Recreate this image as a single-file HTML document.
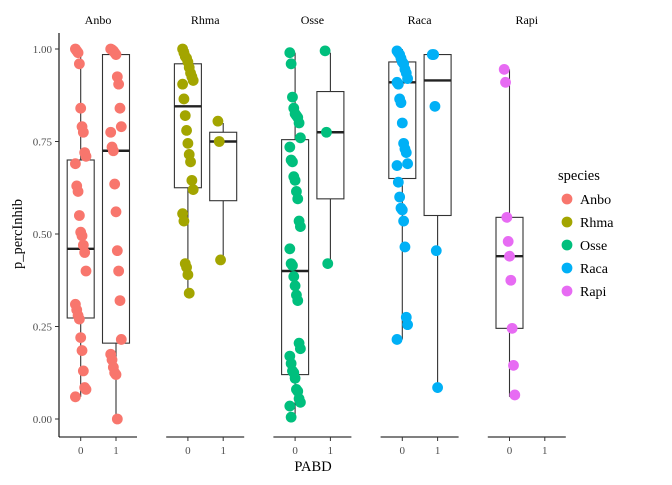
<!DOCTYPE html>
<html><head><meta charset="utf-8"><style>
body{margin:0;background:#fff}
svg text{font-family:"Liberation Serif",serif}
</style></head><body>
<svg id="c" width="672" height="480"></svg>
<script>
const species=["Anbo","Rhma","Osse","Raca","Rapi"];
const colors=["#F8766D","#A3A500","#00BF7D","#00B0F6","#E76BF3"];
const yTicks=[0,0.25,0.5,0.75,1];
const yTickLabels=["0.00","0.25","0.50","0.75","1.00"];
// boxes: [species index, PABD, whiskerLow, q1, median, q3, whiskerHigh]
const boxes=[
[0,0,0.06,0.273,0.46,0.70,1.0],[0,1,0,0.205,0.725,0.985,1.0],
[1,0,0.34,0.625,0.845,0.96,1.0],[1,1,0.43,0.59,0.75,0.775,0.80],
[2,0,0.005,0.12,0.40,0.755,0.99],[2,1,0.42,0.595,0.775,0.885,0.99],
[3,0,0.215,0.65,0.91,0.965,1.0],[3,1,0.085,0.55,0.915,0.985,0.985],
[4,0,0.06,0.245,0.44,0.545,0.945]];
const anbo0=[1,.995,.99,.96,.84,.79,.775,.72,.71,.69,.63,.615,.55,.505,.495,.47,.45,.40,.31,.295,.28,.27,.22,.185,.13,.085,.08,.06];
const anbo1=[1,.998,.995,.99,.985,.925,.905,.84,.79,.775,.735,.725,.635,.56,.455,.40,.32,.215,.175,.16,.14,.125,.12,0];
const rhma0=[1,.99,.98,.975,.965,.95,.935,.925,.915,.905,.865,.82,.78,.745,.715,.695,.645,.62,.555,.535,.42,.41,.39,.34];
const rhma1=[.805,.75,.43];
const osse0=[.99,.96,.87,.84,.825,.82,.815,.80,.76,.735,.70,.695,.655,.645,.615,.595,.535,.52,.46,.42,.415,.385,.36,.335,.32,.205,.19,.17,.15,.13,.125,.11,.08,.075,.055,.045,.035,.005];
const osse1=[.995,.775,.42];
const raca0=[.995,.99,.985,.975,.965,.96,.945,.935,.92,.91,.905,.865,.855,.80,.745,.73,.72,.69,.685,.64,.60,.57,.565,.535,.465,.275,.255,.215];
const raca1=[.985,.985,.845,.455,.085];
const rapi0=[.945,.91,.545,.48,.44,.375,.245,.145,.065];
const points=[[0,0,anbo0],[0,1,anbo1],[1,0,rhma0],[1,1,rhma1],[2,0,osse0],[2,1,osse1],[3,0,raca0],[3,1,raca1],[4,0,rapi0]];

const NS="http://www.w3.org/2000/svg",svg=document.getElementById('c');
function el(t,a,p){const e=document.createElementNS(NS,t);for(const k in a)e.setAttribute(k,a[k]);(p||svg).appendChild(e);return e;}
const panelLeft=i=>59+i*107.2, panelW=78;
const xS=(i,g)=>panelLeft(i)+21.7+g*35.3;
const yS=v=>419-v*370;

let ya=el('g',{});
el('line',{x1:59,x2:59,y1:33,y2:437,stroke:'#000','stroke-width':1.1},ya);
yTicks.forEach((t,k)=>{el('line',{x1:55,x2:59,y1:yS(t),y2:yS(t),stroke:'#333'},ya);
 let tx=el('text',{x:52,y:yS(t)+4,'text-anchor':'end','font-size':11,fill:'#4d4d4d'},ya);tx.textContent=yTickLabels[k];});
let yt=el('text',{x:0,y:0,'font-size':14.5,'text-anchor':'middle',transform:'translate(22,234) rotate(-90)'});yt.textContent='p_percInhib';


species.forEach((s,i)=>{
 let g=el('g',{});
 let st=el('text',{x:panelLeft(i)+panelW/2,y:24,'text-anchor':'middle','font-size':12},g);st.textContent=s;
 el('line',{x1:panelLeft(i),x2:panelLeft(i)+panelW,y1:437,y2:437,stroke:'#000','stroke-width':1.1},g);
 [0,1].forEach(p=>{el('line',{x1:xS(i,p),x2:xS(i,p),y1:437,y2:441,stroke:'#333'},g);
  let t=el('text',{x:xS(i,p),y:454,'text-anchor':'middle','font-size':11,fill:'#4d4d4d'},g);t.textContent=p;});
});
let xt=el('text',{x:313,y:471,'text-anchor':'middle','font-size':14.5});xt.textContent='PABD';


boxes.forEach(b=>{const [i,p,lo,q1,md,q3,hi]=b;const cx=xS(i,p),hw=13.5;
 let g=el('g',{});
 el('line',{x1:cx,x2:cx,y1:yS(hi),y2:yS(q3),stroke:'#333','stroke-width':1.1},g);
 el('line',{x1:cx,x2:cx,y1:yS(q1),y2:yS(lo),stroke:'#333','stroke-width':1.1},g);
 el('rect',{x:cx-hw,y:yS(q3),width:2*hw,height:yS(q1)-yS(q3),fill:'#fff',stroke:'#333','stroke-width':1.1},g);
 el('line',{x1:cx-hw,x2:cx+hw,y1:yS(md),y2:yS(md),stroke:'#222','stroke-width':2.4},g);
});
points.forEach(pp=>{const [i,p,vals]=pp;
 let g=el('g',{});
 vals.forEach((v,k)=>{const j=(((k*37)%9)-4)/4*0.15;
  el('circle',{cx:xS(i,p)+j*35.3,cy:yS(v),r:5.4,fill:colors[i]},g);});
});
let lg=el('g',{});
let lt=el('text',{x:558,y:180,'font-size':14.5},lg);lt.textContent='species';
species.forEach((s,i)=>{let e=el('g',{},lg);
 el('circle',{cx:567,cy:199+i*23,r:5.4,fill:colors[i]},e);
 let t=el('text',{x:580,y:204+i*23,'font-size':14},e);t.textContent=s;});
</script>
</body></html>
